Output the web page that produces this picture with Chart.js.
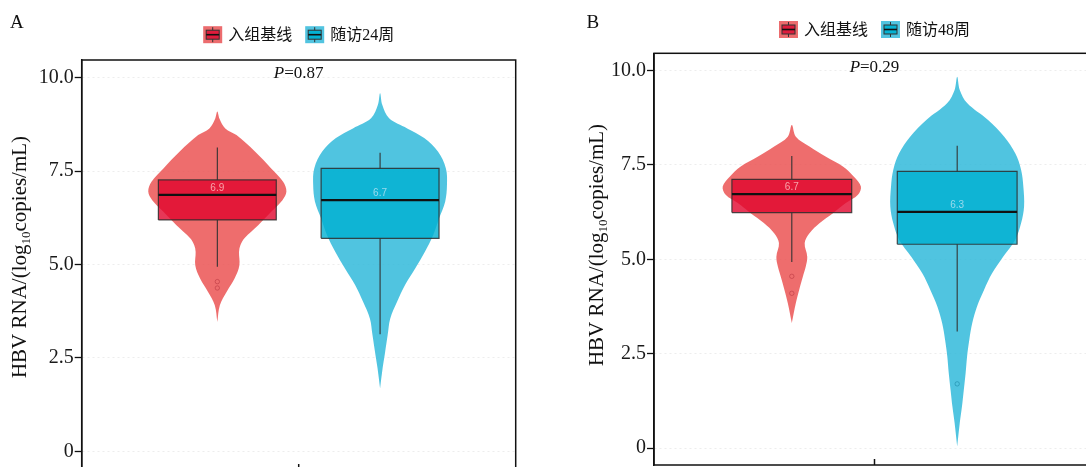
<!DOCTYPE html>
<html>
<head>
<meta charset="utf-8">
<script src="https://cdn.jsdelivr.net/npm/chart.js@4.4.1/dist/chart.umd.min.js"></script>
<style>
  html, body { margin: 0; padding: 0; background: #fff; width: 1086px; height: 467px; overflow: hidden; }
  canvas { position: absolute; top: 0; }
  #chartA { left: 0; }
  #chartB { left: 560px; }
</style>
</head>
<body>
<canvas id="chartA" width="545" height="495"></canvas>
<canvas id="chartB" width="540" height="490"></canvas>
<script>
// ---- data ----
var yTicks = [0, 2.5, 5, 7.5, 10];
var yTickLabels = ['0', '2.5', '5.0', '7.5', '10.0'];
var groupsA = ['入组基线', '随访24周'];
var groupsB = ['入组基线', '随访48周'];
var pValues = ['0.87', '0.29'];

// violin outlines: levels (log10 copies/mL) and half widths (x units)
var violinA1Y = [3.46, 3.91, 4.27, 4.63, 4.98, 5.34, 5.52, 5.70, 6.05, 6.41, 6.72, 6.95, 7.21, 7.57, 8.02, 8.46, 8.64, 8.90, 9.09];
var violinA1W = [0, 0.007, 0.026, 0.048, 0.061, 0.060, 0.064, 0.075, 0.113, 0.149, 0.180, 0.191, 0.182, 0.149, 0.104, 0.053, 0.022, 0.006, 0];
var violinA2Y = [1.68, 2.22, 2.66, 3.11, 3.55, 4.00, 4.45, 4.89, 5.34, 5.79, 6.23, 6.68, 7.13, 7.57, 8.02, 8.38, 8.64, 8.91, 9.27, 9.58];
var violinA2W = [0, 0.007, 0.014, 0.021, 0.028, 0.047, 0.069, 0.097, 0.124, 0.147, 0.163, 0.180, 0.185, 0.182, 0.160, 0.122, 0.075, 0.025, 0.006, 0];
var violinB1Y = [3.31, 3.84, 4.19, 4.54, 4.81, 5.07, 5.43, 5.69, 5.96, 6.22, 6.49, 6.71, 6.93, 7.19, 7.46, 7.72, 7.99, 8.25, 8.56];
var violinB1W = [0, 0.011, 0.020, 0.030, 0.038, 0.042, 0.035, 0.048, 0.076, 0.112, 0.147, 0.180, 0.188, 0.169, 0.139, 0.093, 0.048, 0.011, 0];
var violinB2Y = [0.04, 0.66, 1.10, 1.54, 1.99, 2.43, 2.87, 3.31, 3.75, 4.19, 4.63, 5.07, 5.52, 5.96, 6.40, 6.93, 7.37, 7.81, 8.25, 8.69, 9.14, 9.49, 9.84];
var violinB2W = [0, 0.007, 0.013, 0.018, 0.023, 0.027, 0.033, 0.041, 0.054, 0.073, 0.095, 0.125, 0.158, 0.174, 0.182, 0.180, 0.174, 0.158, 0.128, 0.084, 0.027, 0.007, 0];

// box stats: [lower whisker, q1, median, q3, upper whisker]
var boxA1 = [4.94, 6.19, 6.86, 7.26, 8.13];
var boxA2 = [3.13, 5.70, 6.72, 7.57, 7.99];
var boxB1 = [4.93, 6.24, 6.73, 7.12, 7.74];
var boxB2 = [3.09, 5.40, 6.26, 7.33, 8.01];
var outliersA1 = [4.54, 4.37];
var outliersA2 = [];
var outliersB1 = [4.55, 4.10];
var outliersB2 = [1.70];

// ---- layout / style ----
var groupX = [0.775, 1.225];
var BOX_HALF = 0.163;
var SERIF = '"Liberation Serif", "Times New Roman", serif';
var CJK = '"Liberation Serif", "Noto Sans CJK SC", serif';
var colors = {
  violin: ['rgba(234,72,72,0.8)', 'rgba(36,181,216,0.8)'],
  box: ['rgba(225,5,45,0.8)', 'rgba(0,176,209,0.8)'],
  keyOuter: ['#ec6c6e', '#52c4e0'],
  keyInner: ['#df1c3c', '#05b2d2'],
  outlier: ['rgba(190,60,70,0.8)', 'rgba(30,140,170,0.8)'],
  medianText: ['rgba(250,170,175,0.95)', 'rgba(160,220,238,0.95)']
};

function violinPoints(cx, ys, ws) {
  var pts = [];
  for (var i = 0; i < ys.length; i++) pts.push({x: cx + ws[i], y: ys[i]});
  for (var j = ys.length - 2; j >= 0; j--) pts.push({x: cx - ws[j], y: ys[j]});
  return pts;
}
function boxPoints(cx, b) {
  return [{x: cx - BOX_HALF, y: b[1]}, {x: cx + BOX_HALF, y: b[1]}, {x: cx + BOX_HALF, y: b[3]},
          {x: cx - BOX_HALF, y: b[3]}, {x: cx - BOX_HALF, y: b[1]}];
}

function groupDatasets(i, vy, vw, box, outl) {
  var cx = groupX[i];
  return [
    {type: 'line', order: 5, data: violinPoints(cx, vy, vw), fill: 'shape', backgroundColor: colors.violin[i],
     borderWidth: 0, pointRadius: 0, tension: 0.35},
    {type: 'line', order: 4, data: boxPoints(cx, box), fill: 'shape', backgroundColor: colors.box[i],
     borderColor: 'rgba(45,45,45,0.85)', borderWidth: 1.2, pointRadius: 0, tension: 0, borderJoinStyle: 'miter'},
    {type: 'line', order: 3, data: [{x: cx, y: box[4]}, {x: cx, y: box[3]}, {x: cx, y: null}, {x: cx, y: box[1]}, {x: cx, y: box[0]}],
     borderColor: '#333', borderWidth: 1.1, pointRadius: 0, spanGaps: false, fill: false},
    {type: 'line', order: 2, data: [{x: cx - BOX_HALF, y: box[2]}, {x: cx + BOX_HALF, y: box[2]}],
     borderColor: '#111', borderWidth: 2.2, pointRadius: 0, fill: false},
    {type: 'scatter', order: 1, data: outl.map(function (v) { return {x: cx, y: v}; }),
     pointRadius: 2.2, pointBorderWidth: 0.8, pointBackgroundColor: 'rgba(0,0,0,0)', pointBorderColor: colors.outlier[i]}
  ];
}

function drawKey(ctx, x, y, w, h, i) {
  ctx.fillStyle = colors.keyOuter[i];
  ctx.fillRect(x, y, w, h);
  var bx = x + 3, bw = w - 6, by = y + 4, bh = h - 8;
  ctx.fillStyle = colors.keyInner[i];
  ctx.fillRect(bx, by, bw, bh);
  ctx.strokeStyle = '#333';
  ctx.lineWidth = 1;
  ctx.strokeRect(bx, by, bw, bh);
  ctx.beginPath();
  ctx.moveTo(x + w / 2, y + 1); ctx.lineTo(x + w / 2, by);
  ctx.moveTo(x + w / 2, by + bh); ctx.lineTo(x + w / 2, y + h - 1);
  ctx.stroke();
  ctx.lineWidth = 1.6;
  ctx.strokeStyle = '#111';
  ctx.beginPath(); ctx.moveTo(bx, y + h / 2); ctx.lineTo(bx + bw, y + h / 2); ctx.stroke();
}

var panelDecor = {
  id: 'panelDecor',
  afterDatasetsDraw: function (chart, args, o) {
    var ctx = chart.ctx, xs = chart.scales.x, ys = chart.scales.y;
    ctx.save();
    ctx.font = '10px "Liberation Sans", Arial, sans-serif';
    ctx.textAlign = 'center';
    ctx.textBaseline = 'bottom';
    o.medians.forEach(function (m, i) {
      ctx.fillStyle = colors.medianText[i];
      ctx.fillText(m.toFixed(1), xs.getPixelForValue(groupX[i]), ys.getPixelForValue(m) - 1.5);
    });
    ctx.restore();
  },
  afterDraw: function (chart, args, o) {
    var ctx = chart.ctx, a = chart.chartArea, xs = chart.scales.x;
    var mid = (a.left + a.right) / 2;
    ctx.save();
    // frame and inward x tick
    ctx.strokeStyle = '#111';
    ctx.lineWidth = 1.5;
    ctx.strokeRect(a.left, a.top, a.right - a.left, a.bottom - a.top);
    var tx = xs.getPixelForValue(1);
    ctx.beginPath(); ctx.moveTo(tx, a.bottom); ctx.lineTo(tx, a.bottom - 6); ctx.stroke();

    // panel letter
    ctx.fillStyle = '#111';
    ctx.font = '19px ' + SERIF;
    ctx.textAlign = 'left';
    ctx.textBaseline = 'alphabetic';
    ctx.fillText(o.letter, o.letterX, 28);

    // P value
    ctx.textBaseline = 'middle';
    ctx.font = 'italic 17px ' + SERIF;
    var wP = ctx.measureText('P').width;
    ctx.font = '17px ' + SERIF;
    var rest = '=' + o.p;
    var wR = ctx.measureText(rest).width;
    var px = mid - (wP + wR) / 2;
    ctx.font = 'italic 17px ' + SERIF;
    ctx.fillText('P', px, a.top + 14);
    ctx.font = '17px ' + SERIF;
    ctx.fillText(rest, px + wP, a.top + 14);

    // y axis title with subscript
    ctx.save();
    ctx.translate(o.titleX, o.titleY);
    ctx.rotate(-Math.PI / 2);
    ctx.textBaseline = 'alphabetic';
    var t1 = 'HBV RNA/(log', t2 = '10', t3 = 'copies/mL)';
    ctx.font = '21px ' + SERIF;
    var w1 = ctx.measureText(t1).width, w3 = ctx.measureText(t3).width;
    ctx.font = '13px ' + SERIF;
    var w2 = ctx.measureText(t2).width;
    var sx = -(w1 + w2 + w3) / 2;
    ctx.font = '21px ' + SERIF;
    ctx.fillText(t1, sx, 7);
    ctx.font = '13px ' + SERIF;
    ctx.fillText(t2, sx + w1, 11);
    ctx.font = '21px ' + SERIF;
    ctx.fillText(t3, sx + w1 + w2, 7);
    ctx.restore();

    // legend
    ctx.font = '16px ' + CJK;
    ctx.textBaseline = 'middle';
    var kw = 19, kh = 17, gap = 6, sep = 13;
    var widths = o.groups.map(function (g) { return ctx.measureText(g).width; });
    var total = kw * 2 + gap * 2 + widths[0] + widths[1] + sep;
    var lx = mid - total / 2, ly = a.top - o.legendDy;
    o.groups.forEach(function (g, i) {
      drawKey(ctx, lx, ly - kh / 2, kw, kh, i);
      ctx.fillStyle = '#111';
      ctx.fillText(g, lx + kw + gap, ly + 1);
      lx += kw + gap + widths[i] + sep;
    });
    ctx.restore();
  }
};

function makePanel(id, cfg) {
  var datasets = groupDatasets(0, cfg.v1y, cfg.v1w, cfg.box1, cfg.out1)
    .concat(groupDatasets(1, cfg.v2y, cfg.v2w, cfg.box2, cfg.out2));
  return new Chart(document.getElementById(id), {
    type: 'line',
    data: {datasets: datasets},
    plugins: [panelDecor],
    options: {
      responsive: false,
      animation: false,
      devicePixelRatio: 1,
      events: [],
      layout: {padding: cfg.padding},
      plugins: {
        legend: {display: false},
        tooltip: {enabled: false},
        panelDecor: {letter: cfg.letter, letterX: cfg.letterX, p: cfg.p, groups: cfg.groups,
                     titleX: cfg.titleX, titleY: cfg.titleY, legendDy: cfg.legendDy,
                     medians: [cfg.box1[2], cfg.box2[2]]}
      },
      scales: {
        x: {type: 'linear', min: 0.4, max: 1.6, display: false},
        y: {
          type: 'linear', min: cfg.yMin, max: cfg.yMax,
          afterBuildTicks: function (scale) { scale.ticks = yTicks.map(function (v) { return {value: v}; }); },
          afterFit: function (scale) { scale.width = cfg.axisWidth; },
          ticks: {
            padding: 1,
            color: '#1a1a1a',
            font: {family: SERIF, size: 20},
            callback: function (v) { return yTickLabels[yTicks.indexOf(v)]; }
          },
          grid: {color: 'rgba(0,0,0,0.07)', lineWidth: 1, tickColor: '#111', tickLength: 7, tickWidth: 1.3, tickBorderDash: []},
          border: {display: true, color: '#111', width: 1.5, dash: [2, 3]}
        }
      }
    }
  });
}

makePanel('chartA', {
  letter: 'A', letterX: 10, p: pValues[0], groups: groupsA,
  padding: {left: 0, top: 60, right: 29.3, bottom: 25}, axisWidth: 81.7,
  yMin: -0.5, yMax: 10.47, titleX: 19, titleY: 257, legendDy: 25.3,
  v1y: violinA1Y, v1w: violinA1W, box1: boxA1, out1: outliersA1,
  v2y: violinA2Y, v2w: violinA2W, box2: boxA2, out2: outliersA2
});
makePanel('chartB', {
  letter: 'B', letterX: 26.6, p: pValues[1], groups: groupsB,
  padding: {left: 0, top: 53.3, right: 5, bottom: 25}, axisWidth: 94,
  yMin: -0.45, yMax: 10.46, titleX: 36, titleY: 245, legendDy: 23.8,
  v1y: violinB1Y, v1w: violinB1W, box1: boxB1, out1: outliersB1,
  v2y: violinB2Y, v2w: violinB2W, box2: boxB2, out2: outliersB2
});
</script>
</body>
</html>
